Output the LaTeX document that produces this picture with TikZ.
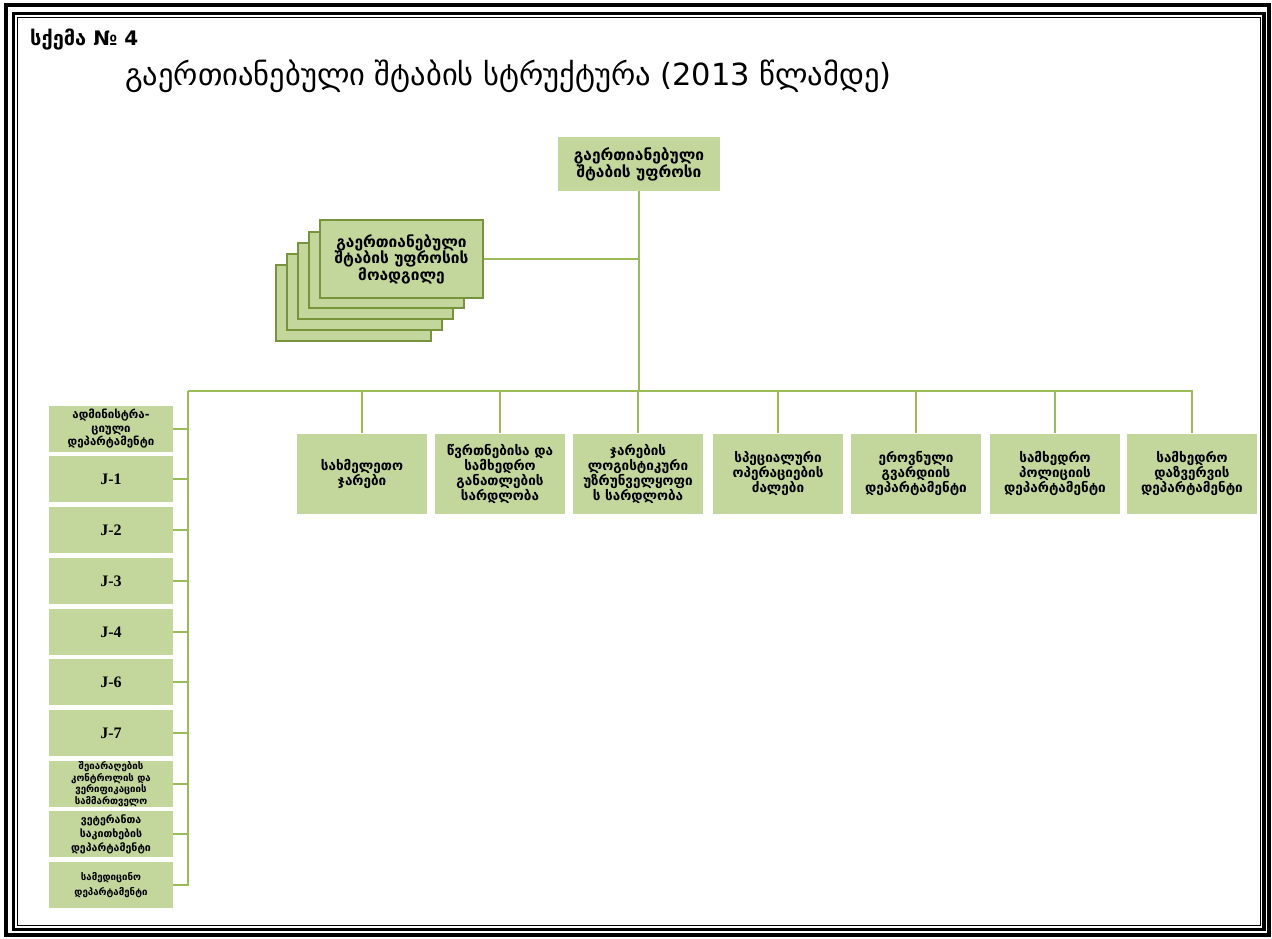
\documentclass[tikz,border=0pt]{standalone}
\usepackage{fontspec}
\setmainfont{DejaVu Sans}
\newfontfamily\jfont{Liberation Serif}
\usepackage{xcolor}
\usetikzlibrary{calc,positioning}

\definecolor{boxgreen}{RGB}{195,214,155}
\definecolor{linegreen}{RGB}{155,187,89}
\definecolor{edgegreen}{RGB}{119,147,60}

\begin{document}
\begin{tikzpicture}[x=1pt,y=-1pt,
	unit/.style={fill=boxgreen,align=center,inner sep=1pt,font=\bfseries\fontsize{13.5}{15}\selectfont},
	side/.style={unit,minimum width=124pt,minimum height=46pt},
	sub/.style={unit,minimum width=130pt,minimum height=80pt},
	stackbox/.style={fill=boxgreen,draw=edgegreen,line width=2pt,align=center},
	link/.style={draw=linegreen,line width=1.2pt}]
		\useasboundingbox (0,0) rectangle (1272,939);
		% frame
		\draw[line width=4pt] (5.5,5.5) rectangle (1269.3,935);
		\draw[line width=3.5pt] (13.5,13.5) rectangle (1263.8,929.5);
		\draw[line width=1pt] (17.5,17.5) rectangle (1260.5,925.5);
		
		\node[anchor=base west,inner sep=0pt,font=\bfseries\fontsize{20}{24}\selectfont] (scheme) at (30,46) {სქემა № 4};
		\node[anchor=base west,inner sep=0pt,font=\fontsize{30.5}{36}\selectfont] (title) at (125,86) {გაერთიანებული შტაბის სტრუქტურა (2013 წლამდე)};
		
		\node[unit,minimum width=162pt,minimum height=54pt,font=\bfseries\fontsize{15.5}{17}\selectfont] (chief) at (639,164) {გაერთიანებული\\შტაბის უფროსი};
		
		% deputies
		\foreach \i in {4,3,2,1}
		\node[stackbox,minimum width=155pt,minimum height=76pt] (back\i) at ({397.5-11*\i},{259+11*\i}) {};
		\node[stackbox,minimum width=163pt,minimum height=78pt,font=\bfseries\fontsize{15.5}{16.5}\selectfont] (deputy) at (401.5,259) {გაერთიანებული\\შტაბის უფროსის\\მოადგილე};
		
		% services
		\node[sub] (s1) at (362,473.5) {სახმელეთო\\ჯარები};
		\node[sub] (s2) at (500,473.5) {წვრთნებისა და\\სამხედრო\\განათლების\\სარდლობა};
		\node[sub] (s3) at (638,473.5) {ჯარების\\ლოგისტიკური\\უზრუნველყოფი\\ს სარდლობა};
		\node[sub] (s4) at (778,473.5) {სპეციალური\\ოპერაციების\\ძალები};
		\node[sub] (s5) at (916,473.5) {ეროვნული\\გვარდიის\\დეპარტამენტი};
		\node[sub] (s6) at (1055,473.5) {სამხედრო\\პოლიციის\\დეპარტამენტი};
		\node[sub] (s7) at (1192,473.5) {სამხედრო\\დაზვერვის\\დეპარტამენტი};
		
		% staff directorates
		\node[side,font=\bfseries\fontsize{11.5}{13.5}\selectfont] (adm) at (111,429) {ადმინისტრა-\\ციული\\დეპარტამენტი};
		\foreach \n/\y in {1/479,2/530,3/581,4/632,6/682,7/733}
		\node[side,font=\jfont\bfseries\fontsize{16}{18}\selectfont] (j\n) at (111,\y) {J-\n};
		\node[side,font=\bfseries\fontsize{9.7}{11.5}\selectfont] (arms) at (111,784) {შეიარაღების\\კონტროლის და\\ვერიფიკაციის\\სამმართველო};
		\node[side,font=\bfseries\fontsize{10.6}{14}\selectfont] (vet) at (111,834) {ვეტერანთა\\საკითხების\\დეპარტამენტი};
		\node[side,font=\bfseries\fontsize{9.7}{15}\selectfont] (med) at (111,885) {სამედიცინო\\დეპარტამენტი};
		
		% connectors
		\coordinate (bus) at (188,391);
		\draw[link] (chief.south) -- (chief.south |- bus);
		\draw[link] (deputy.east) -- (deputy.east -| chief.south);
		\draw[link] (bus) -| (s7.north);
		\draw[link] (bus) |- (med.east);
		\foreach \k in {1,...,6}
		\draw[link] (s\k.north) -- (s\k.north |- bus);
		\foreach \b in {adm,j1,j2,j3,j4,j6,j7,arms,vet}
		\draw[link] (\b.east) -- (\b.east -| bus);
\end{tikzpicture}
\end{document}
